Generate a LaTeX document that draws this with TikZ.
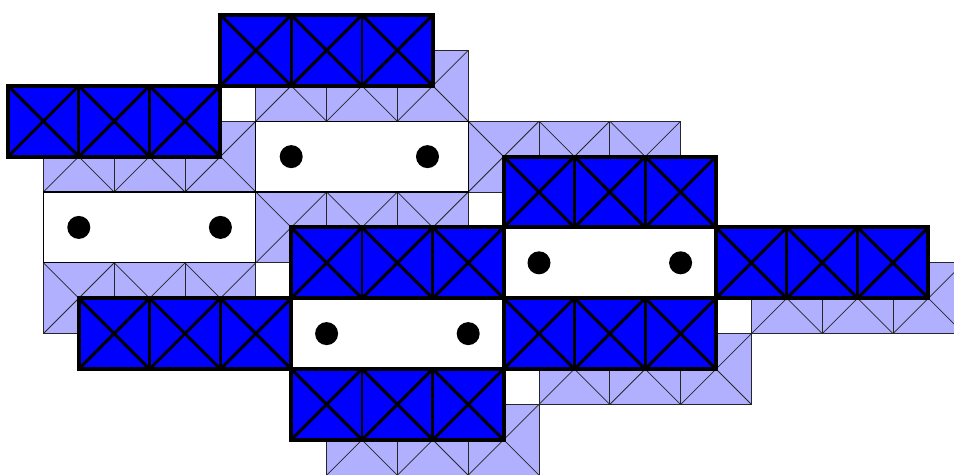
\documentclass[tikz,border=0pt]{standalone}
\usepackage{tikz}
\tikzset{
  lightsq/.style={fill=blue!31, draw=black!85, line width=0.6pt},
  lightln/.style={draw=black!85, line width=0.6pt},
  darksq/.style={fill=blue, draw=black, line width=2.4pt},
  darkln/.style={draw=black, line width=2.4pt},
  darkedge/.style={draw=black, line width=3.2pt},
  whitebox/.style={fill=white, draw=black, line width=0.9pt},
  dotmark/.style={fill=black},
}
% a 6x2 block made of three 2x2 squares with crosses; #1,#2 = top-left (x, y downward)
\newcommand{\lightblk}[2]{%
  \foreach \k in {0,2,4}{%
    \path[lightsq] ({#1+\k},{-#2}) rectangle ({#1+\k+2},{-#2-2});
    \draw[lightln] ({#1+\k},{-#2}) -- ({#1+\k+2},{-#2-2})
                   ({#1+\k+2},{-#2}) -- ({#1+\k},{-#2-2});
  }}
\newcommand{\darkblk}[2]{%
  \foreach \k in {0,2,4}{%
    \path[darksq] ({#1+\k},{-#2}) rectangle ({#1+\k+2},{-#2-2});
    \draw[darkln] ({#1+\k},{-#2}) -- ({#1+\k+2},{-#2-2})
                  ({#1+\k+2},{-#2}) -- ({#1+\k},{-#2-2});
  }
  \draw[darkedge] ({#1},{-#2}) rectangle ({#1+6},{-#2-2});}
\newcommand{\whiteblk}[4]{%
  \path[whitebox] ({#1},{-#2}) rectangle ({#1+6},{-#2-2});
  \fill[dotmark] ({#3},{-#2-1}) circle (0.325);
  \fill[dotmark] ({#4},{-#2-1}) circle (0.325);}
\begin{document}
\begin{tikzpicture}
\useasboundingbox (-0.226,0.424) rectangle (26.723,-12.985);
% light (lower) blocks
\lightblk{7}{1}
\lightblk{1}{3}
\lightblk{7}{5}
\lightblk{13}{3}
\lightblk{1}{7}
\lightblk{21}{7}
\lightblk{15}{9}
\lightblk{9}{11}
% white blocks with two dots
\whiteblk{7}{3}{8}{11.85}
\whiteblk{1}{5}{2}{6}
\whiteblk{14}{6}{15}{19}
\whiteblk{8}{8}{9}{13}
% dark (upper) blocks
\darkblk{6}{0}
\darkblk{0}{2}
\darkblk{14}{4}
\darkblk{8}{6}
\darkblk{20}{6}
\darkblk{2}{8}
\darkblk{14}{8}
\darkblk{8}{10}
\end{tikzpicture}
\end{document}
